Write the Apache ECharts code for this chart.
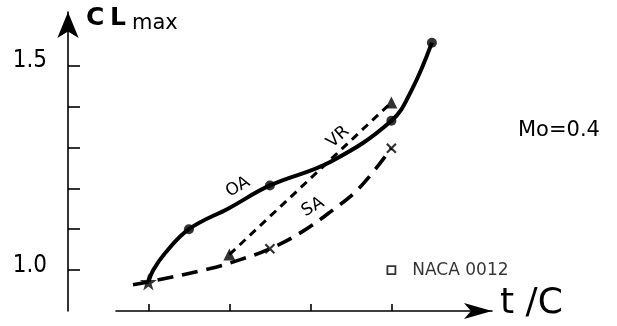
<!DOCTYPE html>
<html>
<head>
<meta charset="utf-8">
<script src="https://cdn.jsdelivr.net/npm/echarts@6/dist/echarts.min.js"></script>
<style>
  html, body { margin: 0; padding: 0; background: #fff; }
  #chart { width: 617px; height: 326px; }
</style>
</head>
<body>
<div id="chart"></div>
<script>
// Maximum lift coefficient against thickness ratio t/C (%), at Mo = 0.4

// OA family: measured airfoils and the faired curve drawn through them
const oaT  = [6, 7, 9, 12, 13];
const oaCl = [0.971, 1.100, 1.207, 1.365, 1.556];
const oaCurveT  = [6, 6.12, 6.4, 7, 8, 9, 10.5, 12, 12.5, 13];
const oaCurveCl = [0.971, 1.000, 1.040, 1.100, 1.152, 1.207, 1.265, 1.365, 1.440, 1.556];

// VR family
const vrT  = [8, 12];
const vrCl = [1.038, 1.410];

// SA family: measured airfoils and the faired curve
const saT  = [9, 12];
const saCl = [1.052, 1.298];
const saCurveT  = [5.62, 6, 7.5, 8.25, 9, 9.8, 10.5, 11.2, 12];
const saCurveCl = [0.964, 0.971, 1.003, 1.025, 1.052, 1.094, 1.143, 1.200, 1.298];

// Common starting airfoil (star) and the NACA 0012 reference
const startT  = [6];
const startCl = [0.971];
const nacaT  = [12];
const nacaCl = [1.0];

const xTicks  = [6, 8, 10, 12];
const yTicks  = [1.0, 1.1, 1.2, 1.3, 1.4, 1.5];
const yLabels = [1.0, 1.5];

const zip = (xs, ys) => xs.map((x, i) => [x, ys[i]]);
const INK = '#000';
const FONT = 'DejaVu Sans, sans-serif';
const NARROW = "'Liberation Sans Narrow', 'DejaVu Sans Condensed', 'Liberation Sans', sans-serif";
const STAR = 'path://M50,0 L61,35 L98,35 L68,57 L79,91 L50,70 L21,91 L32,57 L2,35 L39,35 Z';
const CROSS = 'path://M0,0 L10,10 M10,0 L0,10';

const chart = echarts.init(document.getElementById('chart'), null, { renderer: 'canvas' });

chart.setOption({
  animation: false,
  backgroundColor: '#fff',
  grid: { left: 116, right: 125, top: 12, bottom: 15, outerBoundsMode: 'none' },
  xAxis: {
    type: 'value', min: 5.2, max: 14.484,
    axisLine: { show: true, symbol: ['none', 'arrow'], symbolSize: [12, 28],
                lineStyle: { color: INK, width: 1.6 } },
    axisTick: { show: true, inside: true, length: 7, customValues: xTicks,
                lineStyle: { color: INK, width: 1.6 } },
    axisLabel: { show: false },
    splitLine: { show: false }
  },
  yAxis: {
    type: 'value', min: 0.9, max: 1.631, offset: 48,
    axisLine: { show: true, symbol: ['none', 'arrow'], symbolSize: [16, 26],
                lineStyle: { color: INK, width: 1.6 } },
    axisTick: { show: true, inside: true, length: 12, customValues: yTicks,
                lineStyle: { color: INK, width: 1.6 } },
    axisLabel: { show: true, customValues: yLabels, margin: 21,
                 formatter: v => v.toFixed(1), color: INK, fontSize: 24,
                 fontFamily: NARROW, verticalAlign: 'bottom', lineHeight: 9 },
    splitLine: { show: false }
  },
  series: [
    { name: 'OA', type: 'line', data: zip(oaCurveT, oaCurveCl), smooth: 0.4, symbol: 'none',
      lineStyle: { color: INK, width: 4 }, z: 3 },
    { name: 'VR', type: 'line', data: zip(vrT, vrCl), symbol: 'none',
      lineStyle: { color: INK, width: 3, type: [8, 6] }, z: 3 },
    { name: 'SA', type: 'line', data: zip(saCurveT, saCurveCl), smooth: 0.4, symbol: 'none',
      lineStyle: { color: INK, width: 3.6, type: [16, 9] }, z: 3 },
    { type: 'scatter', data: zip(oaT, oaCl).slice(1), symbol: 'circle', symbolSize: 10,
      itemStyle: { color: INK }, z: 5 },
    { type: 'scatter', data: zip(startT, startCl), symbol: STAR, symbolSize: 17,
      itemStyle: { color: INK }, z: 5 },
    { type: 'scatter', data: zip(vrT, vrCl), symbol: 'triangle', symbolSize: 12,
      itemStyle: { color: INK }, z: 5 },
    { type: 'scatter', data: zip(saT, saCl), symbol: CROSS, symbolSize: 9,
      itemStyle: { color: 'rgba(0,0,0,0)', borderColor: INK, borderWidth: 2.2 }, z: 5 },
    { name: 'NACA 0012', type: 'scatter', data: zip(nacaT, nacaCl), symbol: 'rect', symbolSize: 8,
      itemStyle: { color: '#fff', borderColor: INK, borderWidth: 1.8 }, z: 5,
      label: { show: true, position: 'right', distance: 16, formatter: 'NACA 0012',
               color: INK, fontSize: 17, fontFamily: FONT } }
  ],
  graphic: [
    { type: 'text', x: 86, y: 18, style: { text: 'C', fontSize: 25, fontWeight: 'bold', fontFamily: FONT, fill: INK, align: 'left', verticalAlign: 'middle' } },
    { type: 'text', x: 110, y: 18, style: { text: 'L', fontSize: 25, fontWeight: 'bold', fontFamily: FONT, fill: INK, align: 'left', verticalAlign: 'middle' } },
    { type: 'text', x: 132, y: 24, style: { text: 'max', fontSize: 21, fontFamily: FONT, fill: INK, align: 'left', verticalAlign: 'middle' } },
    { type: 'text', x: 500, y: 304, style: { text: 't /C', fontSize: 36, fontFamily: FONT, fill: INK, align: 'left', verticalAlign: 'middle' } },
    { type: 'text', x: 518, y: 131, style: { text: 'Mo=0.4', fontSize: 21, fontFamily: FONT, fill: INK, align: 'left', verticalAlign: 'middle' } },
    { type: 'text', x: 238, y: 187, rotation: 30 * Math.PI / 180, style: { text: 'OA', fontSize: 17, fontFamily: FONT, fill: INK, align: 'center', verticalAlign: 'middle' } },
    { type: 'text', x: 338, y: 137, rotation: 42 * Math.PI / 180, style: { text: 'VR', fontSize: 17, fontFamily: FONT, fill: INK, align: 'center', verticalAlign: 'middle' } },
    { type: 'text', x: 313, y: 207, rotation: 30 * Math.PI / 180, style: { text: 'SA', fontSize: 17, fontFamily: FONT, fill: INK, align: 'center', verticalAlign: 'middle' } }
  ]
});
</script>
</body>
</html>
